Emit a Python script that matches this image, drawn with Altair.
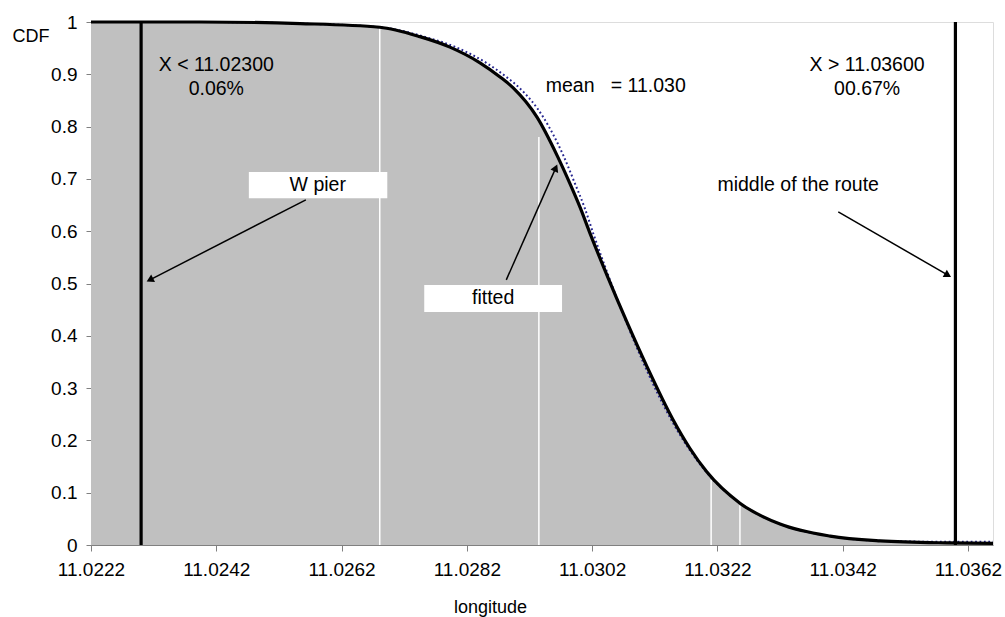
import math
import altair as alt
import pandas as pd

# ---- data ----
fit_x = [11.02220, 11.02394, 11.02554, 11.02681, 11.02745, 11.02793, 11.02841, 11.02873,
         11.02894, 11.02932, 11.02964, 11.02985, 11.03001, 11.03017, 11.03044, 11.03076,
         11.03108, 11.03149, 11.03176, 11.03203, 11.03256, 11.03320, 11.03400, 11.03480,
         11.03587, 11.03660]
fit_y = [1.0, 1.0, 0.997, 0.990, 0.972, 0.952, 0.922, 0.895,
         0.874, 0.818, 0.745, 0.690, 0.645, 0.595, 0.515, 0.425,
         0.340, 0.240, 0.185, 0.140, 0.080, 0.040, 0.017, 0.008,
         0.004, 0.003]

emp_x = [11.02220, 11.02394, 11.02554, 11.02681, 11.02752, 11.02802, 11.02851, 11.02883,
         11.02904, 11.02942, 11.02974, 11.02993, 11.03008, 11.03022, 11.03046, 11.03075,
         11.03105, 11.03146, 11.03174, 11.03202, 11.03256, 11.03320, 11.03400, 11.03480,
         11.03587, 11.03660]
emp_y = [1.0, 1.0, 0.997, 0.990, 0.972, 0.952, 0.922, 0.895,
         0.874, 0.818, 0.745, 0.690, 0.645, 0.595, 0.515, 0.425,
         0.340, 0.240, 0.185, 0.140, 0.080, 0.040, 0.017, 0.008,
         0.006, 0.006]

# white separators inside the grey area
sep_x = [11.02681, 11.02935, 11.03210, 11.03256]
sep_top = [0.988, 0.78, 0.125, 0.076]

# limits (black vertical lines)
limit_x = [11.0230, 11.0360]

x_ticks = [11.0222, 11.0242, 11.0262, 11.0282, 11.0302, 11.0322, 11.0342, 11.0362]
y_ticks = [0, 0.1, 0.2, 0.3, 0.4, 0.5, 0.6, 0.7, 0.8, 0.9, 1.0]
X_MIN, X_MAX = 11.0222, 11.0366

# annotation texts
txt_label = ["X < 11.02300", "0.06%", "X > 11.03600", "00.67%",
             "W pier", "fitted", "middle of the route"]
txt_x = [11.0242, 11.0242, 11.03459, 11.03459, 11.02582, 11.02862, 11.03349]
txt_y = [0.918, 0.872, 0.918, 0.872, 0.688, 0.472, 0.688]

mean_label = ["mean\u00a0\u00a0\u00a0= 11.030"]
mean_x = [11.02946]
mean_y = [0.878]

# white label boxes
box_x = [11.02472, 11.02752]
box_x2 = [11.02693, 11.02972]
box_y = [0.663, 0.4455]
box_y2 = [0.713, 0.497]

# arrows (start -> end)
arr_x1 = [11.02563, 11.02883, 11.03413]
arr_y1 = [0.660, 0.507, 0.637]
arr_x2 = [11.02314, 11.02962, 11.03588]
arr_y2 = [0.507, 0.721, 0.516]

W, H = 902, 523
FONT = "Liberation Sans"

fit = pd.DataFrame({"x": fit_x, "y": fit_y})
emp = pd.DataFrame({"x": emp_x, "y": emp_y})
seps = pd.DataFrame({"x": sep_x, "bot": [0.0] * len(sep_x), "top": sep_top})
lims = pd.DataFrame({"x": limit_x, "bot": [0.0] * len(limit_x), "top": [1.0] * len(limit_x)})
txts = pd.DataFrame({"x": txt_x, "y": txt_y, "t": txt_label})
means = pd.DataFrame({"x": mean_x, "y": mean_y, "t": mean_label})
boxes = pd.DataFrame({"x": box_x, "x2": box_x2, "y": box_y, "y2": box_y2})

angles = []
for a, b, c, d in zip(arr_x1, arr_y1, arr_x2, arr_y2):
    dx = (c - a) * W / (X_MAX - X_MIN)
    dy = (d - b) * H
    angles.append(math.degrees(math.atan2(dx, dy)) % 360)
arrows = pd.DataFrame({"x": arr_x1, "y": arr_y1, "x2": arr_x2, "y2": arr_y2, "ang": angles})

xs = alt.Scale(domain=[X_MIN, X_MAX], nice=False, zero=False)
ys = alt.Scale(domain=[0, 1], nice=False)

x_axis = alt.Axis(values=x_ticks, format=".4f", title="longitude", grid=False,
                  domainColor="#808080", tickColor="#808080", tickSize=6,
                  labelFontSize=19, labelPadding=9, labelColor="black", labelFont=FONT,
                  labelFlush=False,
                  titleFontSize=18, titleFontWeight="normal", titleFont=FONT,
                  titleX=399, titleY=62, titleAlign="center", titleBaseline="middle")
y_axis = alt.Axis(values=y_ticks, format="~g", title="CDF", grid=False,
                  domainColor="#808080", tickColor="#808080", tickSize=5,
                  labelFontSize=19, labelPadding=9, labelColor="black", labelFont=FONT,
                  labelFlush=False,
                  titleFontSize=18, titleFontWeight="normal", titleFont=FONT,
                  titleAngle=0, titleX=-79, titleY=14, titleAlign="left",
                  titleBaseline="middle")

area = alt.Chart(fit).mark_area(color="#c0c0c0", interpolate="monotone").encode(
    x=alt.X("x:Q", scale=xs, axis=x_axis),
    y=alt.Y("y:Q", scale=ys, axis=y_axis),
)

sep = alt.Chart(seps).mark_rule(color="white", strokeWidth=1.5).encode(
    x="x:Q", y="bot:Q", y2="top:Q")

dotted = alt.Chart(emp).mark_line(color="#26268f", strokeDash=[1.8, 2.6],
                                  strokeWidth=2, interpolate="monotone").encode(
    x="x:Q", y="y:Q")

line = alt.Chart(fit).mark_line(color="black", strokeWidth=3.2,
                                interpolate="monotone").encode(x="x:Q", y="y:Q")

limits = alt.Chart(lims).mark_rule(color="black", strokeWidth=3.2).encode(
    x="x:Q", y="bot:Q", y2="top:Q")

rects = alt.Chart(boxes).mark_rect(color="white").encode(
    x="x:Q", x2="x2:Q", y="y:Q", y2="y2:Q")

texts = alt.Chart(txts).mark_text(font=FONT, fontSize=19.5, color="black",
                                  align="center", baseline="middle").encode(
    x="x:Q", y="y:Q", text="t:N")

mean_text = alt.Chart(means).mark_text(font=FONT, fontSize=19.5, color="black",
                                       align="left", baseline="middle").encode(
    x="x:Q", y="y:Q", text="t:N")

arrow_lines = alt.Chart(arrows).mark_rule(color="black", strokeWidth=1.5).encode(
    x="x:Q", y="y:Q", x2="x2:Q", y2="y2:Q")

arrow_heads = alt.Chart(arrows).mark_point(shape="triangle-up", filled=True,
                                           color="black", size=70, opacity=1).encode(
    x="x2:Q", y="y2:Q", angle=alt.Angle("ang:Q", scale=None))

chart = alt.layer(area, sep, dotted, line, limits, rects, texts, mean_text,
                  arrow_lines, arrow_heads).properties(
    width=W, height=H,
    autosize=alt.AutoSizeParams(type="none"),
    padding={"left": 91, "top": 22, "right": 12, "bottom": 72},
    background="white",
).configure_view(stroke="#a0a0a0", strokeWidth=1).configure(font=FONT)

chart.save("out.html", embed_options={"renderer": "svg", "actions": False})
